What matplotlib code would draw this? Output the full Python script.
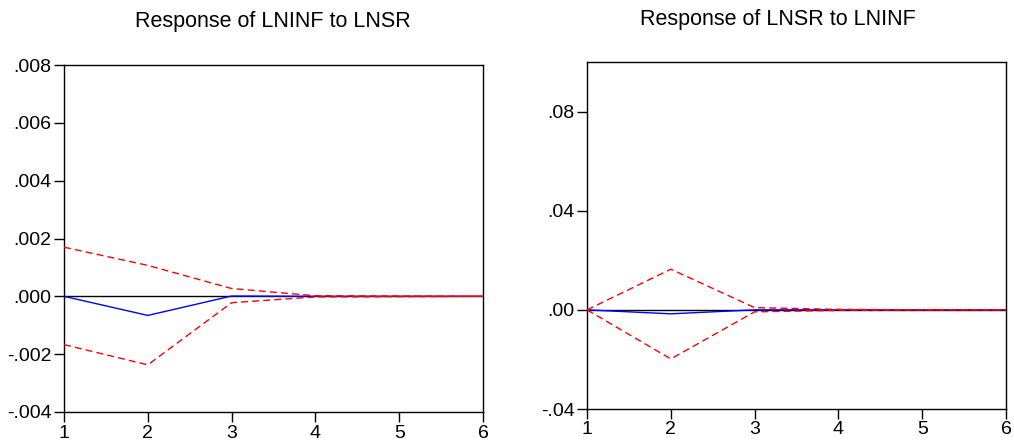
import numpy as np
from matplotlib import pyplot as plt

plt.rcParams["font.family"] = ["Liberation Sans", "DejaVu Sans"]

periods = [1, 2, 3, 4, 5, 6]

# Response of LNINF to LNSR
inf_resp = [0.0, -0.00066, 0.00001, 0.0, 0.0, 0.0]
inf_upper = [0.0017, 0.00107, 0.00027, 0.00002, 0.00001, 0.0]
inf_lower = [-0.00167, -0.00237, -0.00022, -0.00002, -0.00001, 0.0]

# Response of LNSR to LNINF
sr_resp = [0.0, -0.0016, 0.0, 0.0, 0.0, 0.0]
sr_upper = [0.0, 0.0164, 0.0009, 0.0002, 0.0, 0.0]
sr_lower = [0.0, -0.0198, -0.0008, -0.0002, 0.0, 0.0]

inf_ticks = [-0.004, -0.002, 0.0, 0.002, 0.004, 0.006, 0.008]
inf_labels = ["-.004", "-.002", ".000", ".002", ".004", ".006", ".008"]
sr_ticks = [-0.04, 0.0, 0.04, 0.08]
sr_labels = ["-.04", ".00", ".04", ".08"]

W, H = 1014, 442
fig = plt.figure(figsize=(W / 100, H / 100), dpi=100)


def panel(rect, resp, up, lo, ylim, ticks, labels):
    ax = fig.add_axes(rect)
    ax.axhline(0, color="black", lw=1.0, zorder=1)
    ax.plot(periods, resp, "-", color="blue", lw=1.0, zorder=2)
    ax.plot(periods, up, "--", color="red", lw=1.0, dashes=(5, 3), zorder=3)
    ax.plot(periods, lo, "--", color="red", lw=1.0, dashes=(5, 3), zorder=3)
    ax.set_xlim(1, 6)
    ax.set_ylim(*ylim)
    ax.set_xticks(periods)
    ax.set_yticks(ticks)
    ax.set_yticklabels(labels)
    ax.tick_params(direction="out", length=7, width=1, labelsize=14, pad=2)
    for s in ax.spines.values():
        s.set_linewidth(1.0)
    return ax


panel([64 / W, 30 / H, 419 / W, 347 / H], inf_resp, inf_upper, inf_lower,
      (-0.004, 0.008), inf_ticks, inf_labels)
panel([587 / W, 33 / H, 419 / W, 347 / H], sr_resp, sr_upper, sr_lower,
      (-0.04, 0.10), sr_ticks, sr_labels)

fig.text(273 / W, 1 - 22 / H, "Response of LNINF to LNSR", ha="center", va="center", fontsize=15.5)
fig.text(778 / W, 1 - 20 / H, "Response of LNSR to LNINF", ha="center", va="center", fontsize=15.5)

fig.savefig("out.png", dpi=100)
